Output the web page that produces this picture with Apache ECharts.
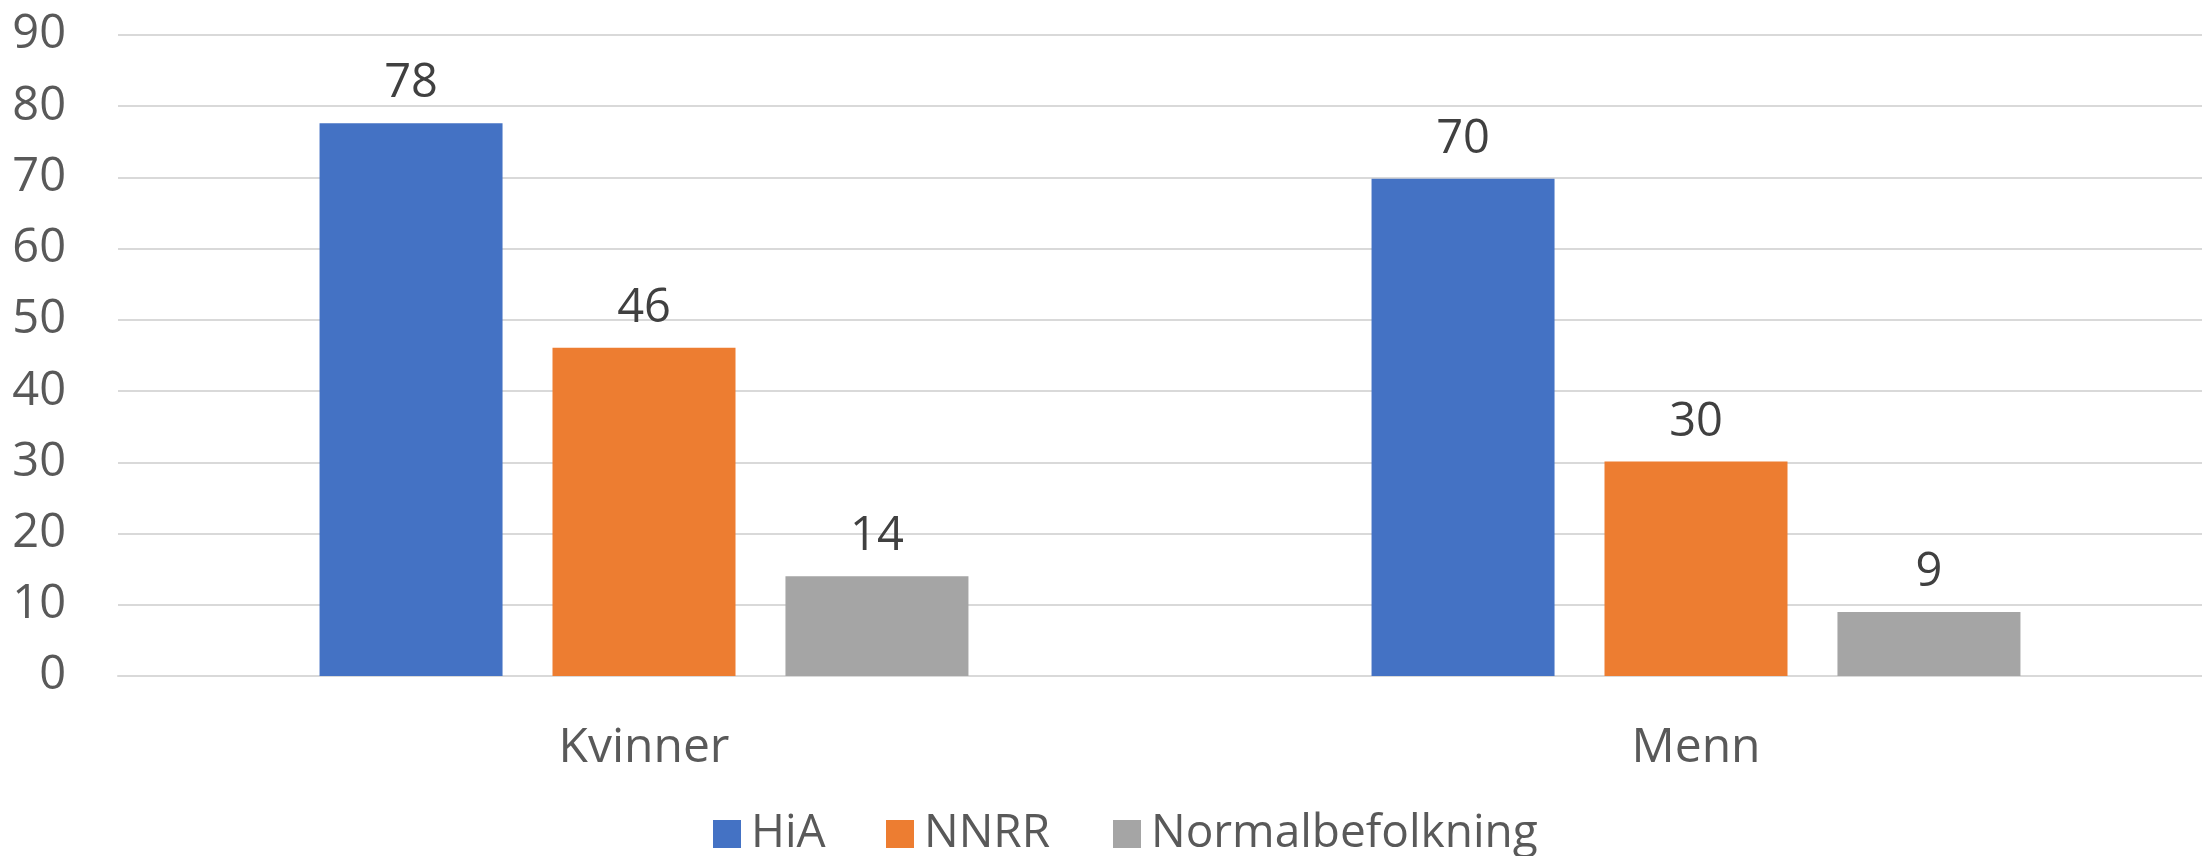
<!DOCTYPE html>
<html>
<head>
<meta charset="utf-8">
<script src="https://cdn.jsdelivr.net/npm/echarts@6/dist/echarts.min.js"></script>
<style>
html,body{margin:0;padding:0;background:#fff;}
#chart{width:2202px;height:856px;}
</style>
</head>
<body>
<div id="chart"></div>
<script>
const categories = ['Kvinner', 'Menn'];
const seriesNames = ['HiA', 'NNRR', 'Normalbefolkning'];
const hiaValues = [77.6, 69.8];
const nnrrValues = [46.1, 30.1];
const normalValues = [14.0, 9.0];
const yTicks = [0, 10, 20, 30, 40, 50, 60, 70, 80, 90];
const colors = ['#4472C4', '#ED7D31', '#A5A5A5'];

const FONT = '"Open Sans", "Noto Sans", sans-serif';
const chart = echarts.init(document.getElementById('chart'));

function mkSeries(name, data, color) {
  return {
    name: name,
    type: 'bar',
    data: data,
    barWidth: 183,
    barGap: '27.3%',
    itemStyle: { color: color },
    label: {
      show: true,
      position: 'top',
      distance: 16,
      color: '#404040',
      fontFamily: FONT,
      fontSize: 47,
      formatter: p => String(Math.round(p.value))
    },
    emphasis: { disabled: true }
  };
}

const legendLefts = [708, 881, 1108];
const legends = seriesNames.map((n, i) => ({
  data: [n],
  left: legendLefts[i],
  top: 806,
  itemWidth: 28,
  itemHeight: 28,
  icon: 'rect',
  selectedMode: false,
  textStyle: { color: '#595959', fontFamily: FONT, fontSize: 46, padding: [0, 0, 0, 5] }
}));

chart.setOption({
  animation: false,
  backgroundColor: '#ffffff',
  color: colors,
  grid: { left: 118, width: 2104, top: 35, height: 641, outerBoundsMode: 'none', containLabel: false },
  legend: legends,
  xAxis: {
    type: 'category',
    data: categories,
    axisLine: { show: true, lineStyle: { color: '#d9d9d9', width: 2 } },
    axisTick: { show: false },
    axisLabel: { color: '#595959', fontFamily: FONT, fontSize: 48, margin: 48 }
  },
  yAxis: {
    type: 'value',
    min: yTicks[0],
    max: yTicks[yTicks.length - 1],
    interval: yTicks[1] - yTicks[0],
    axisLine: { show: false },
    axisTick: { show: false },
    splitLine: { lineStyle: { color: '#d9d9d9', width: 2 } },
    axisLabel: { color: '#595959', fontFamily: FONT, fontSize: 47, margin: 52 }
  },
  series: [
    mkSeries(seriesNames[0], hiaValues, colors[0]),
    mkSeries(seriesNames[1], nnrrValues, colors[1]),
    mkSeries(seriesNames[2], normalValues, colors[2])
  ]
});
</script>
</body>
</html>
